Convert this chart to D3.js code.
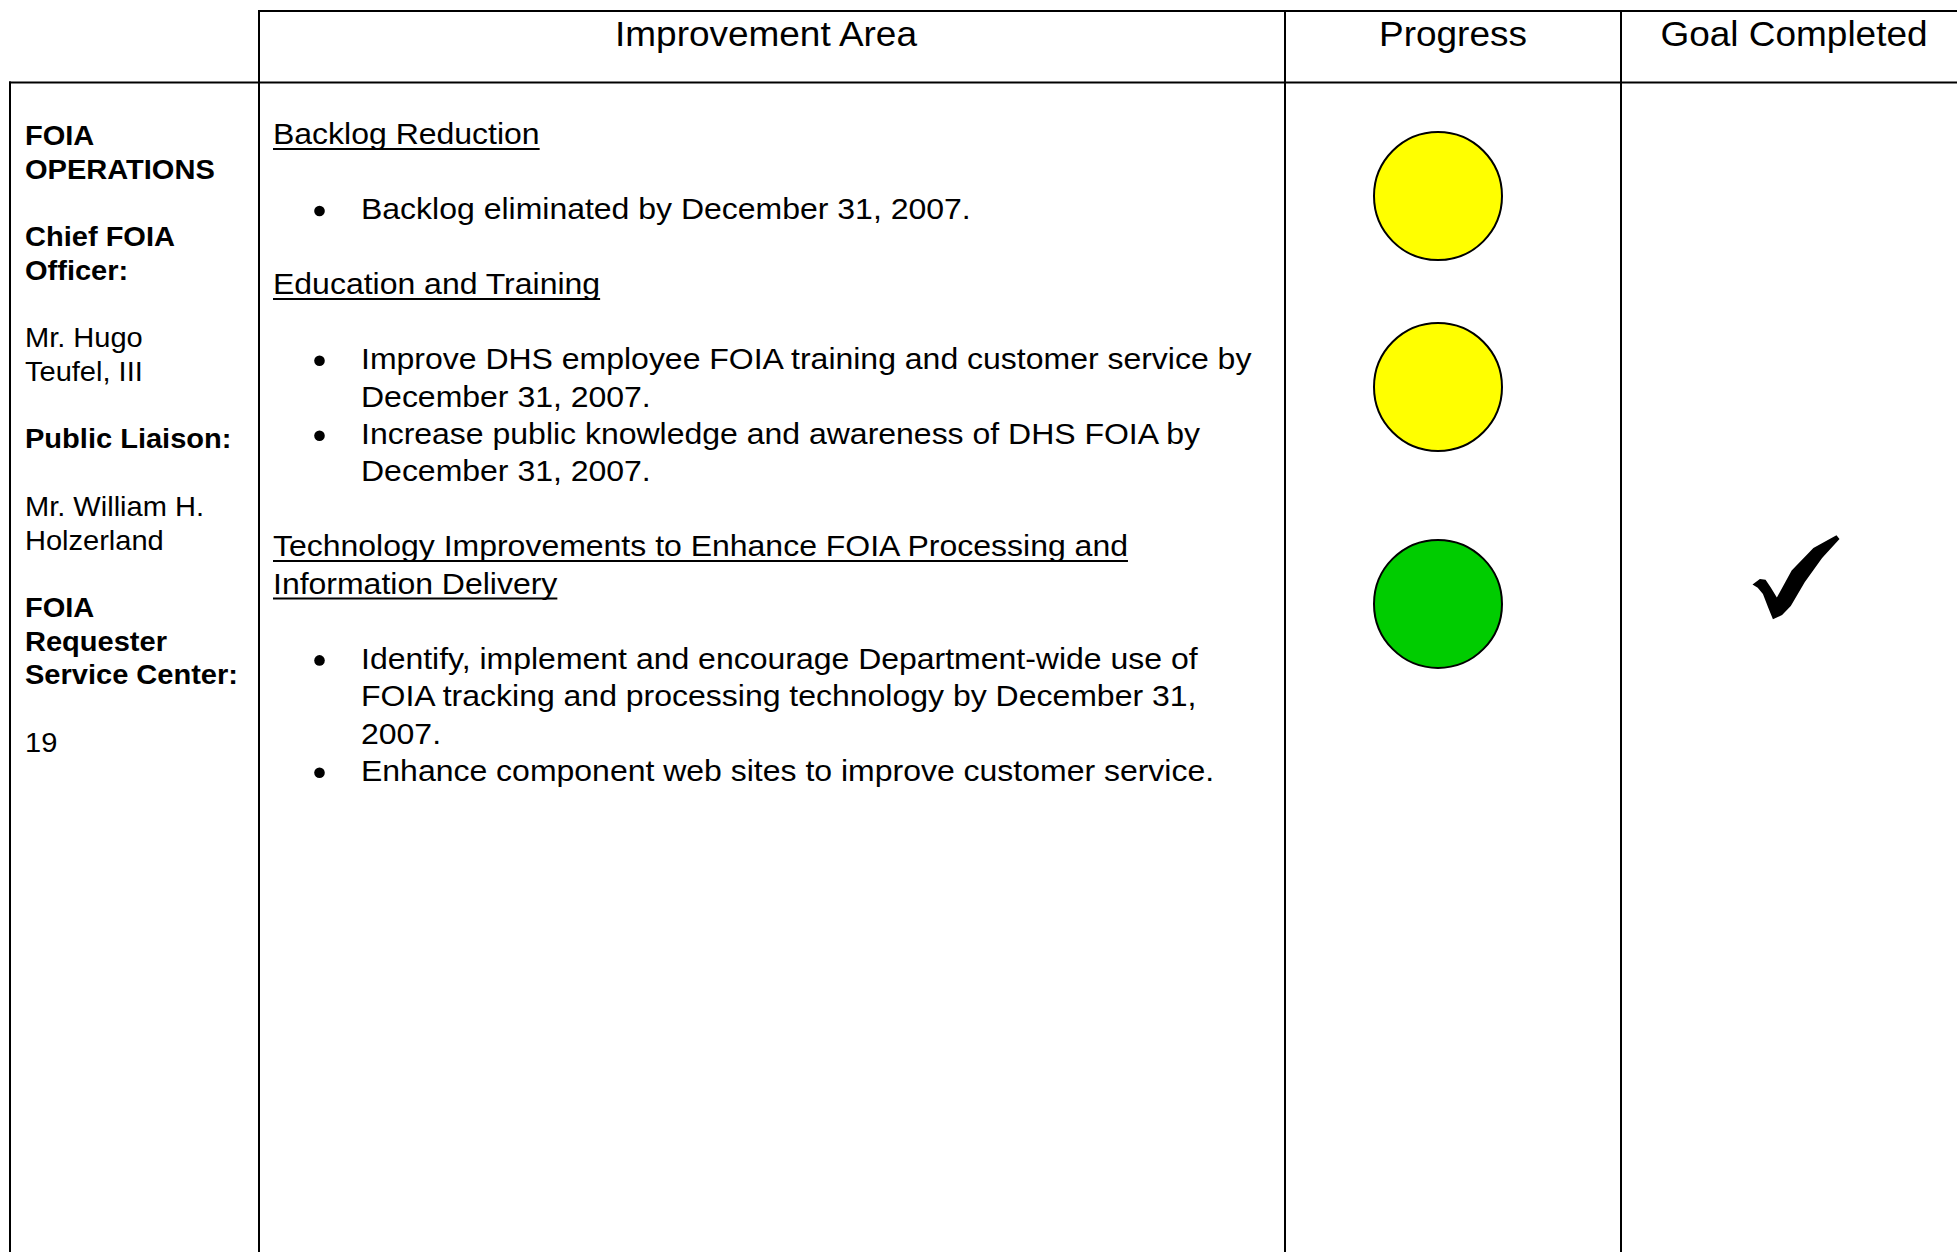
<!DOCTYPE html>
<html>
<head>
<meta charset="utf-8">
<script src="https://cdn.jsdelivr.net/npm/d3@7/dist/d3.min.js"></script>
<style>
  html, body { margin: 0; padding: 0; background: #fff; }
  svg { display: block; }
  text { font-family: "Liberation Sans", Arial, Helvetica, sans-serif; fill: #000; }
</style>
</head>
<body>
<svg id="chart" width="1957" height="1252"></svg>
<script>
// ---------------- DATA ----------------
const headers = ["Improvement Area", "Progress", "Goal Completed"];

// left column: paragraphs (each an array of lines) with bold flag
const infoParagraphs = [
  { bold: true,  lines: ["FOIA", "OPERATIONS"] },
  { bold: true,  lines: ["Chief FOIA", "Officer:"] },
  { bold: false, lines: ["Mr. Hugo", "Teufel, III"] },
  { bold: true,  lines: ["Public Liaison:"] },
  { bold: false, lines: ["Mr. William H.", "Holzerland"] },
  { bold: true,  lines: ["FOIA", "Requester", "Service Center:"] },
  { bold: false, lines: ["19"] }
];

// improvement areas (heading lines as wrapped in the picture)
const areaHeadings = [
  ["Backlog Reduction"],
  ["Education and Training"],
  ["Technology Improvements to Enhance FOIA Processing and", "Information Delivery"]
];

// goals per area: each goal is an array of wrapped lines
const areaGoals = [
  [["Backlog eliminated by December 31, 2007."]],
  [["Improve DHS employee FOIA training and customer service by", "December 31, 2007."],
   ["Increase public knowledge and awareness of DHS FOIA by", "December 31, 2007."]],
  [["Identify, implement and encourage Department-wide use of",
    "FOIA tracking and processing technology by December 31,", "2007."],
   ["Enhance component web sites to improve customer service."]]
];

const progressStatus = ["yellow", "yellow", "green"];
const goalCompleted  = [false, false, true];

// ---------------- LAYOUT ----------------
const W = 1957, H = 1252;
const colEdges = [10, 259, 1285, 1621, 1967];
const headerTop = 11, headerBottom = 82.5;
const markerSlot = [1.38, 6.48, 12.27];   // vertical anchor (in body line units) of progress markers
const checkSlot = 11.56;
const sx = 1.056;                          // horizontal glyph stretch of the scanned page

const svg = d3.select("#chart");

// line-slot scales
const yBody = d3.scaleLinear().domain([0, 1]).range([144.4, 181.85]);
const yInfo = d3.scaleLinear().domain([0, 1]).range([145.1, 178.8]);
const colX = i => colEdges[i];
const colMid = i => (colEdges[i] + colEdges[i + 1]) / 2;

function addText(g, str, x, y, size, weight, anchor) {
  const t = g.append("text")
    .attr("transform", `translate(${x},${y}) scale(${sx},1)`)
    .attr("font-size", size)
    .attr("font-weight", weight || "normal")
    .attr("text-anchor", anchor || "start")
    .text(str);
  return t;
}

// ---------- grid lines ----------
const grid = svg.append("g").attr("stroke", "#000").attr("stroke-width", 2).attr("fill", "none");
grid.append("line").attr("x1", colX(1) - 1).attr("x2", W).attr("y1", headerTop).attr("y2", headerTop);
grid.append("line").attr("x1", colX(0) - 1).attr("x2", W).attr("y1", headerBottom).attr("y2", headerBottom);
grid.append("line").attr("x1", colX(0)).attr("x2", colX(0)).attr("y1", headerBottom - 1).attr("y2", H);
[1, 2, 3].forEach(i => {
  grid.append("line").attr("x1", colX(i)).attr("x2", colX(i)).attr("y1", headerTop - 1).attr("y2", H);
});

// ---------- headers ----------
const hg = svg.append("g");
const headerOffsets = [-6, 0, 0];
headers.forEach((h, i) => {
  addText(hg, h, colMid(i + 1) + headerOffsets[i], 46, 35, "normal", "middle");
});

// ---------- left info column ----------
const ig = svg.append("g");
let slot = 0;
infoParagraphs.forEach(p => {
  p.lines.forEach(line => {
    addText(ig, line, 25, yInfo(slot), 27.5, p.bold ? "bold" : "normal");
    slot++;
  });
  slot++; // blank line between paragraphs
});

// ---------- improvement area column ----------
const ag = svg.append("g");
const headingX = 273, bulletX = 319.5, goalX = 361;
const fs = 30.3;
slot = 0;
areaHeadings.forEach((lines, ai) => {
  lines.forEach(line => {
    const y = yBody(slot);
    const t = addText(ag, line, headingX, y, fs, "normal");
    const len = t.node().getComputedTextLength() * sx;
    ag.append("line")
      .attr("x1", headingX).attr("x2", headingX + len)
      .attr("y1", y + 4.7).attr("y2", y + 4.7)
      .attr("stroke", "#000").attr("stroke-width", 2);
    slot++;
  });
  slot++; // blank
  areaGoals[ai].forEach(goal => {
    ag.append("circle")
      .attr("cx", bulletX).attr("cy", yBody(slot) - 8.3).attr("r", 5.3)
      .attr("fill", "#000");
    goal.forEach(line => {
      addText(ag, line, goalX, yBody(slot), fs, "normal");
      slot++;
    });
  });
  slot++; // blank
});

// ---------- progress markers ----------
const colorMap = { yellow: "#FFFF00", green: "#00CC00", red: "#FF0000" };
svg.append("g").selectAll("circle")
  .data(progressStatus)
  .join("circle")
  .attr("cx", colMid(2) - 15)
  .attr("cy", (d, i) => yBody(markerSlot[i]))
  .attr("r", 64)
  .attr("fill", d => colorMap[d])
  .attr("stroke", "#000")
  .attr("stroke-width", 2);

// ---------- check marks ----------
// unit outline of a calligraphic check mark (0..1 box)
const checkShape = [
  [0, 0.585], [0.085, 0.52], [0.15, 0.53], [0.21, 0.62], [0.28, 0.74],
  [0.45, 0.42], [0.70, 0.15], [0.965, 0], [1, 0.045], [0.80, 0.27],
  [0.60, 0.56], [0.44, 0.84], [0.34, 0.95], [0.235, 1], [0.18, 0.86],
  [0.12, 0.70], [0.06, 0.625]
];
const checkW = 87, checkH = 84;
const cxs = d3.scaleLinear().domain([0, 1]).range([-checkW / 2, checkW / 2]);
const cys = d3.scaleLinear().domain([0, 1]).range([-checkH / 2, checkH / 2]);
const checkLine = d3.line().x(d => cxs(d[0])).y(d => cys(d[1])).curve(d3.curveLinearClosed);

svg.append("g").selectAll("path")
  .data(goalCompleted.map((c, i) => ({ c, i })).filter(d => d.c))
  .join("path")
  .attr("transform", d => `translate(${colMid(3) + 2}, ${yBody(checkSlot)})`)
  .attr("d", checkLine(checkShape))
  .attr("fill", "#000");
</script>
</body>
</html>
